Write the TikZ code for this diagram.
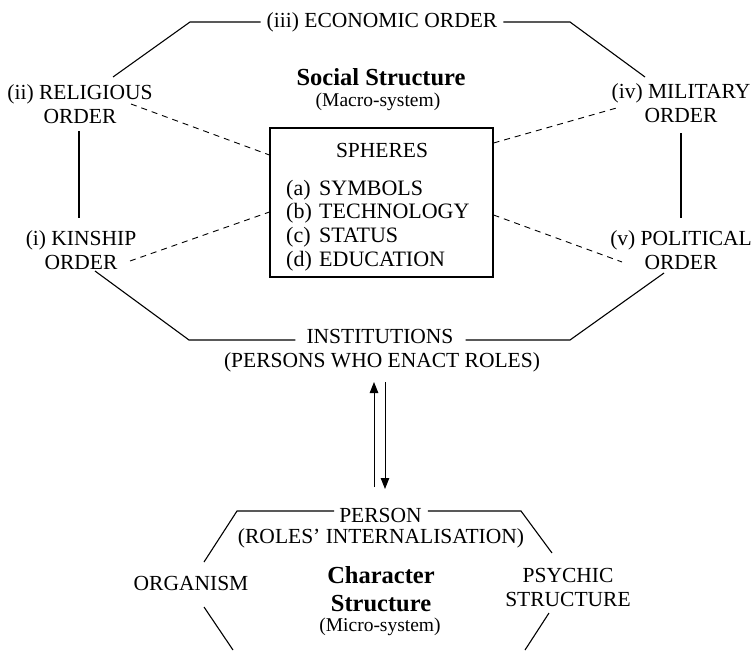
\documentclass[tikz,border=0pt]{standalone}
\usepackage{fontspec}
\setmainfont{Liberation Serif}
\usetikzlibrary{arrows.meta}
\begin{document}
\begin{tikzpicture}[x=1pt,y=-1pt,
  lbl/.style={font=\fontsize{21.5}{24}\selectfont, align=center, inner sep=0pt},
  titlebf/.style={font=\fontsize{24.5}{28}\selectfont\bfseries, align=center, inner sep=0pt},
  subt/.style={font=\fontsize{19.5}{22}\selectfont, inner sep=0pt},
  item/.style={font=\fontsize{22}{24}\selectfont, inner sep=0pt, anchor=base west},
  edge/.style={line width=1.1pt},
  linkdash/.style={line width=0.9pt, dash pattern=on 6pt off 5pt},
  flow/.style={line width=1pt, -{Triangle[length=11pt,width=8.5pt]}}
]
\useasboundingbox (0,0) rectangle (754,650);

% ---- macro-system: the five orders ----
\node[lbl] (econ)  at (382,22)  {(iii) ECONOMIC ORDER};
\node[lbl] (relig) at (80,104)  {(ii) RELIGIOUS\\ORDER};
\node[lbl] (kin)   at (81,250)  {(i) KINSHIP\\ORDER};
\node[lbl] (mil)   at (681,103) {(iv) MILITARY\\ORDER};
\node[lbl] (pol)   at (681,250) {(v) POLITICAL\\ORDER};
\node[lbl] (inst)  at (380,336) {INSTITUTIONS};
\node[lbl] (instsub) at (382,362) {(PERSONS WHO ENACT ROLES)};

\node[titlebf] (soc) at (381,77) {Social Structure};
\node[subt] (macro) at (378,102) {(Macro-system)};

% ---- spheres box ----
\node[draw, line width=1.1pt, minimum width=223pt, minimum height=149pt, inner sep=0pt] (sph) at (381.5,202.5) {};
\node[lbl, anchor=base] (sphhead) at (382,157) {SPHERES};
\node[item] (la) at (286,195) {(a)};
\node[item] (lb) at (286,218) {(b)};
\node[item] (lc) at (286,242) {(c)};
\node[item] (ld) at (286,266) {(d)};
\node[item] (ia) at (319,195) {SYMBOLS};
\node[item] (ib) at (319,218) {TECHNOLOGY};
\node[item] (ic) at (319,242) {STATUS};
\node[item] (id) at (319,266) {EDUCATION};

% ---- outline corners ----
\coordinate (t1) at (190,22);
\coordinate (t2) at (570,22);
\coordinate (rA) at (113,77);
\coordinate (mA) at (645,77);
\coordinate (rB) at (79,131);
\coordinate (kA) at (79,218);
\coordinate (mB) at (681,133);
\coordinate (pA) at (681,218);
\coordinate (kB) at (95,271);
\coordinate (pB) at (664,273);
\coordinate (b1) at (189,340);
\coordinate (b2) at (570,340);

\draw[edge] (rA) -- (t1) -- ([xshift=-6pt]econ.west |- t1);
\draw[edge] ([xshift=6pt]econ.east |- t2) -- (t2) -- (mA);
\draw[edge] (rB) -- (kA);
\draw[edge] (mB) -- (pA);
\draw[edge] (kB) -- (b1) -- ([xshift=-11pt]inst.west |- b1);
\draw[edge] ([xshift=12pt]inst.east |- b2) -- (b2) -- (pB);

% ---- dashed links to spheres ----
\coordinate (rd) at (131,104);
\coordinate (kd) at (130,261);
\coordinate (md) at (620,107);
\coordinate (pd) at (622,262);
\draw[linkdash] (rd) -- (sph.west |- 0,155);
\draw[linkdash] (kd) -- (sph.west |- 0,212);
\draw[linkdash] (sph.east |- 0,143) -- (md);
\draw[linkdash] (sph.east |- 0,215) -- (pd);

% ---- micro-system ----
\node[lbl] (person) at (380.5,515) {PERSON};
\node[lbl] (personsub) at (381,538) {(ROLES' INTERNALISATION)};
\node[lbl] (org) at (191,583) {ORGANISM};
\node[lbl] (psy) at (568,587) {PSYCHIC\\STRUCTURE};
\node[titlebf] (charst) at (381,589) {Character\\Structure};
\node[subt] (micro) at (380,627) {(Micro-system)};

\coordinate (h1) at (237,511);
\coordinate (h2) at (521,511);
\coordinate (hl) at (204,562);
\coordinate (hr) at (552,553);
\coordinate (hl2) at (204,607);
\coordinate (hl3) at (233,650);
\coordinate (hr2) at (549,613);
\coordinate (hr3) at (525,650);
\draw[edge] (hl) -- (h1) -- ([xshift=-5pt]person.west |- h1);
\draw[edge] ([xshift=6pt]person.east |- h2) -- (h2) -- (hr);
\draw[edge] (hl2) -- (hl3);
\draw[edge] (hr2) -- (hr3);

% ---- exchange between institutions and person ----
\coordinate (upS) at (374,487);
\coordinate (upE) at (374,382);
\coordinate (dnS) at (385,382);
\coordinate (dnE) at (385,489);
\draw[flow] (upS) -- (upE);
\draw[flow] (dnS) -- (dnE);
\end{tikzpicture}
\end{document}
